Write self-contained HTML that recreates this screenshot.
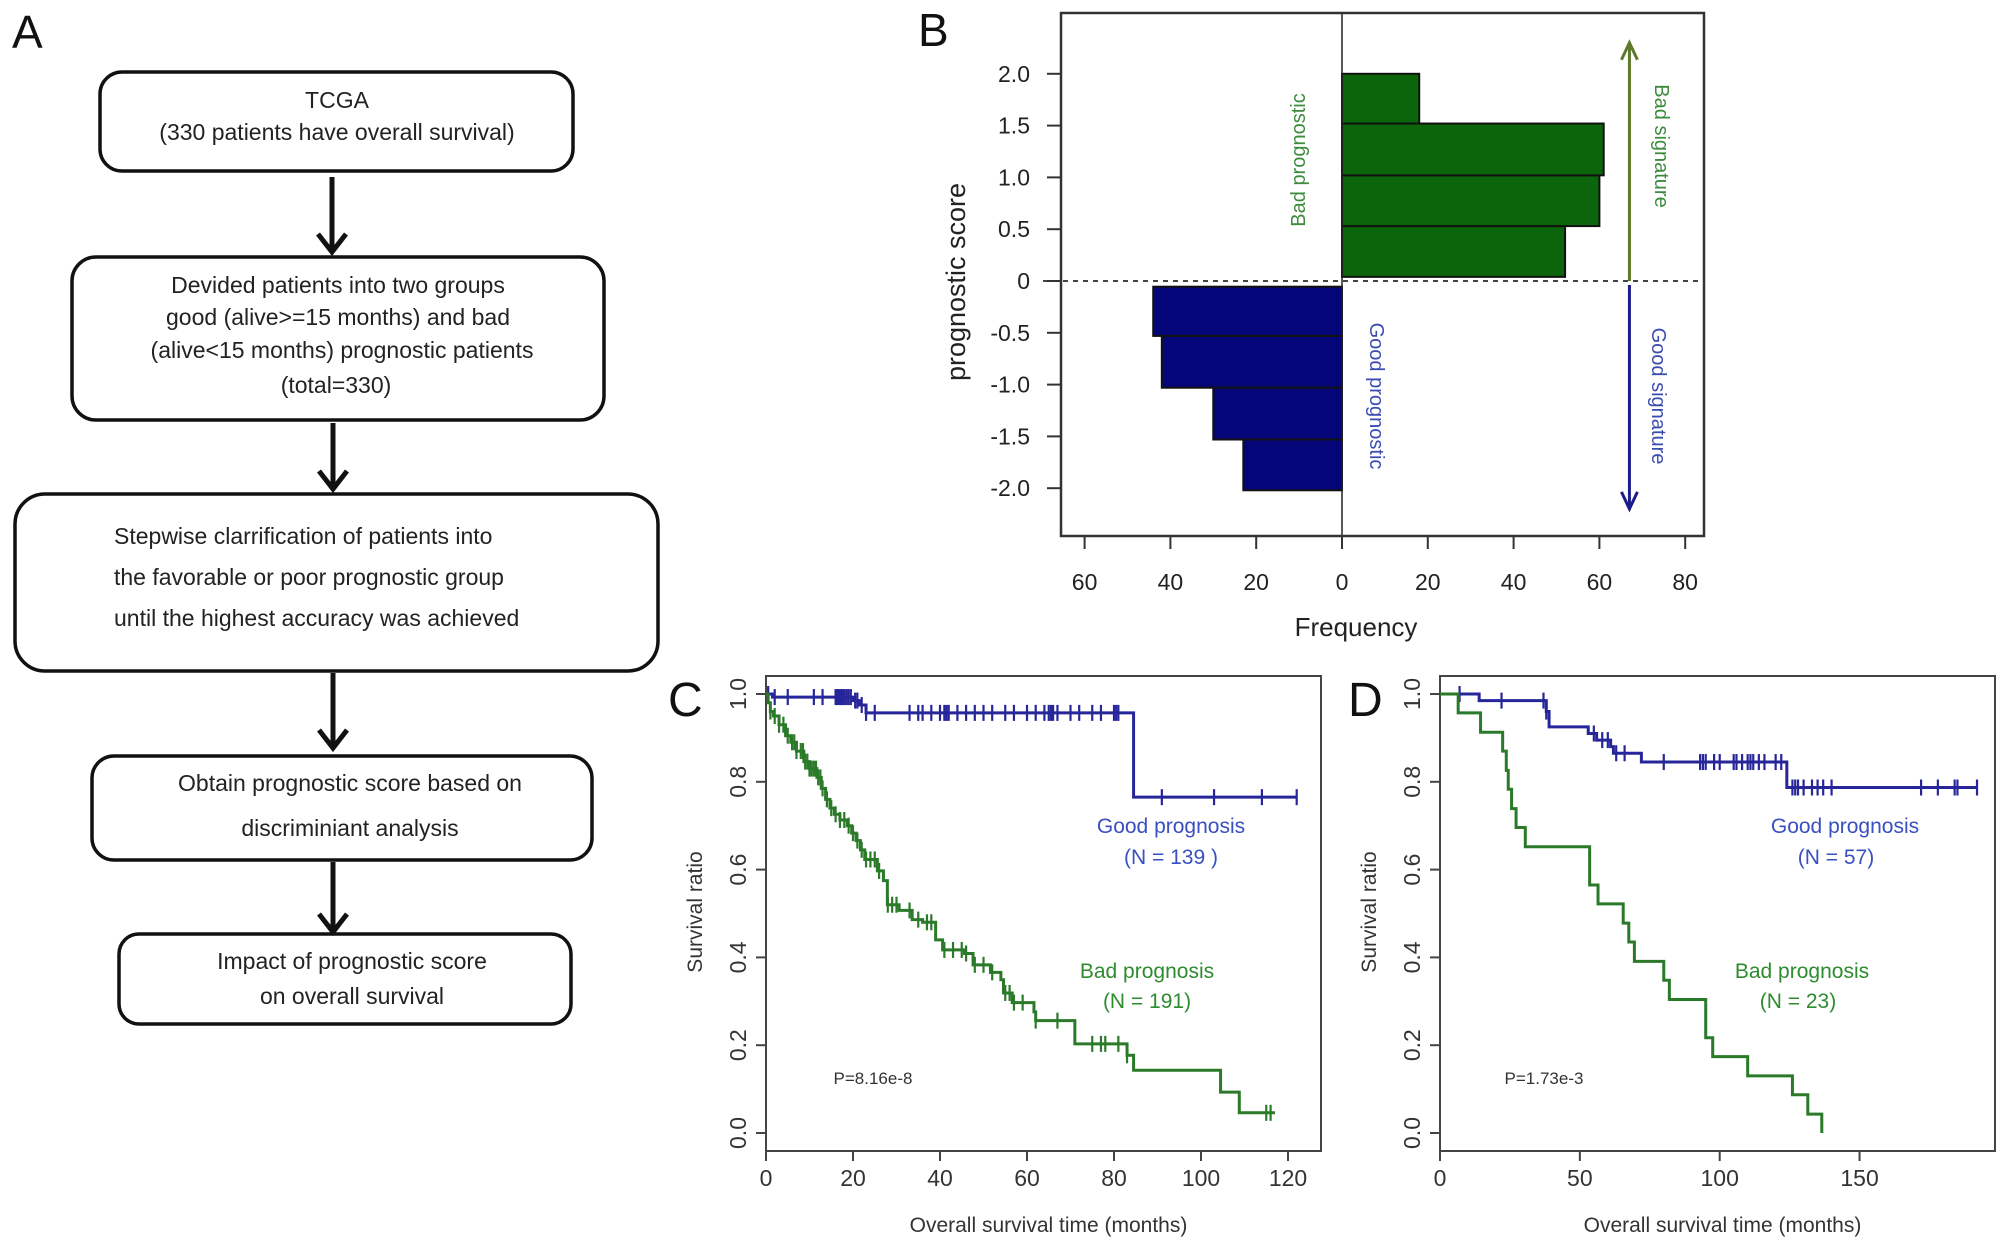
<!DOCTYPE html>
<html><head><meta charset="utf-8"><style>
html,body{margin:0;padding:0;background:#fff;}
svg{display:block;font-family:"Liberation Sans",Arial,sans-serif;}
.nar{font-family:"Liberation Sans Narrow","Liberation Sans",sans-serif;}
</style></head><body>
<svg id="fig" width="2008" height="1247" viewBox="0 0 2008 1247" xmlns="http://www.w3.org/2000/svg">
<g id="panelA" font-size="23" fill="#222">
  <text x="12" y="48" font-size="46" fill="#111">A</text>
  <rect x="100" y="72" width="473" height="99" rx="22" fill="none" stroke="#111" stroke-width="3.5"/>
  <text x="337" y="108" text-anchor="middle">TCGA</text>
  <text x="337" y="140" text-anchor="middle">(330 patients have overall survival)</text>
  <rect x="72" y="257" width="532" height="163" rx="24" fill="none" stroke="#111" stroke-width="3.5"/>
  <g text-anchor="middle">
   <text x="338" y="293">Devided patients into two groups</text>
   <text x="338" y="325">good (alive&gt;=15 months) and bad</text>
   <text x="342" y="358">(alive&lt;15 months) prognostic patients</text>
   <text x="336" y="393">(total=330)</text>
  </g>
  <rect x="15" y="494" width="643" height="177" rx="30" fill="none" stroke="#111" stroke-width="3.5"/>
  <g>
   <text x="114" y="544">Stepwise clarrification of patients into</text>
   <text x="114" y="585">the favorable or poor prognostic group</text>
   <text x="114" y="626">until the highest accuracy was achieved</text>
  </g>
  <rect x="92" y="756" width="500" height="104" rx="22" fill="none" stroke="#111" stroke-width="3.5"/>
  <g text-anchor="middle">
   <text x="350" y="791">Obtain prognostic score based on</text>
   <text x="350" y="836">discriminiant analysis</text>
  </g>
  <rect x="119" y="934" width="452" height="90" rx="20" fill="none" stroke="#111" stroke-width="3.5"/>
  <g text-anchor="middle">
   <text x="352" y="969">Impact of prognostic score</text>
   <text x="352" y="1004">on overall survival</text>
  </g>
  <g stroke="#111" stroke-width="5" fill="none">
   <path d="M332 177 V252 M318 234 L332 252 L346 234"/>
   <path d="M333 423 V489 M319 471 L333 489 L347 471"/>
   <path d="M333 673 V748 M319 730 L333 748 L347 730"/>
   <path d="M333 862 V932 M319 914 L333 932 L347 914"/>
  </g>
</g>
<g id="panelB"></g>
<g id="panelC"></g>
<g id="panelD"></g>
</svg>
<script>
// ---------- Panel B data ----------
const bGreenEdges = [0.04, 0.53, 1.02, 1.52, 2.0];
const bGreenCounts = [52, 60, 61, 18];
const bBlueEdges = [-0.055, -0.53, -1.03, -1.53, -2.02];
const bBlueCounts = [44, 42, 30, 23];
const bYTicks = [2.0, 1.5, 1.0, 0.5, 0, -0.5, -1.0, -1.5, -2.0];
const bYTickLabels = ["2.0","1.5","1.0","0.5","0","-0.5","-1.0","-1.5","-2.0"];
const bXTicks = [-60, -40, -20, 0, 20, 40, 60, 80];
const bXTickLabels = ["60","40","20","0","20","40","60","80"];

// ---------- Panel C data ----------
const cGoodSteps = [[0,1.0],[1.5,0.993],[20,0.985],[21.5,0.975],[23,0.957],[84.5,0.765]];
const cGoodEnd = 122;
const cGoodCensor = [0.5,2,5,11,13,16,16.3,16.6,17,17.3,17.6,18,18.5,19,19.5,20.5,21,22,23,25,33,35,36,38,40,41,41.5,42,44,46,48,50,52,55,57,60,62,64,65,65.5,66,67,70,72,75,77,80,80.5,81,91,103,114,122];
const cBadSteps = [[0,1.0],[0.5,0.98],[1,0.96],[1.7,0.95],[3,0.93],[4.5,0.905],[5.7,0.89],[7,0.87],[8.7,0.846],[10,0.83],[11.7,0.81],[12.7,0.785],[13.7,0.76],[14.7,0.74],[15.7,0.726],[17,0.713],[18.7,0.70],[19.7,0.683],[20.7,0.666],[21.7,0.645],[22.7,0.623],[25.6,0.597],[27,0.575],[27.9,0.52],[30.6,0.507],[33.6,0.486],[36,0.48],[39,0.44],[40.6,0.417],[45.6,0.409],[47.6,0.383],[51.6,0.366],[54,0.349],[54.6,0.319],[56.6,0.297],[61.6,0.276],[62,0.256],[71,0.203],[83,0.177],[84.5,0.143],[104.5,0.093],[108.8,0.046]];
const cBadEnd = 117;
const cBadCensor = [1,2,3,4,5,6,6.5,7,8,8.5,9,9.5,10,10.5,11,11.5,12,12.5,13,14,15,16,17,18,19,20,21,22,23,24,25,26,28,29,30,33,35,37,38,41,43,45,46,48,50,52,55,56,57,59,62,67,75,77,78,81,83,115,116];
const cXTicks = [0,20,40,60,80,100,120];
const cYTicks = [0,0.2,0.4,0.6,0.8,1.0];
const cYTickLabels = ["0.0","0.2","0.4","0.6","0.8","1.0"];

// ---------- Panel D data ----------
const dGoodSteps = [[0,1.0],[14,0.985],[38,0.96],[39,0.925],[53,0.91],[56,0.895],[61,0.88],[62,0.865],[72,0.845],[124,0.787]];
const dGoodEnd = 192;
const dGoodCensor = [7,22,37,38,55,58,60,63,66,80,93,94,95,98,100,105,106,108,110,111,112,114,116,120,122,126,127,128,130,133,135,137,140,172,178,184,185,192];
const dBadSteps = [[0,1.0],[6.5,0.957],[14.5,0.913],[22.4,0.87],[23.7,0.826],[24.4,0.783],[25.6,0.739],[27.2,0.696],[30.5,0.652],[53.5,0.565],[56.5,0.522],[65.5,0.478],[67.5,0.435],[69.5,0.391],[80,0.348],[82,0.304],[95,0.217],[97.5,0.174],[110,0.13],[126,0.087],[131.5,0.043],[136.5,0.0]];
const dBadEnd = 136.5;
const dXTicks = [0,50,100,150];
const dYTicks = [0,0.2,0.4,0.6,0.8,1.0];
const dYTickLabels = ["0.0","0.2","0.4","0.6","0.8","1.0"];

const NS = "http://www.w3.org/2000/svg";
function mk(parent, tag, attrs, text) {
  const e = document.createElementNS(NS, tag);
  for (const k in attrs) e.setAttribute(k, attrs[k]);
  if (text !== undefined) e.textContent = text;
  parent.appendChild(e);
  return e;
}

// ---------- Panel B ----------
(function(){
  const g = document.getElementById('panelB');
  const bx = v => 1342 + v * 4.29;
  const by = v => 281 - v * 103.6;
  let t = mk(g,'text',{x:918,y:46,'font-size':46,fill:'#111'},'B');
  
  
  bGreenCounts.forEach((c,i)=>{
    const y1 = by(bGreenEdges[i+1]), y0 = by(bGreenEdges[i]);
    const r = mk(g,'rect',{x:bx(0),y:y1,width:bx(c)-bx(0),height:y0-y1,fill:'#0b660b',stroke:'#111','stroke-width':2});
    
    
  });
  bBlueCounts.forEach((c,i)=>{
    const y0 = by(bBlueEdges[i]), y1 = by(bBlueEdges[i+1]);
    const r = mk(g,'rect',{x:bx(-c),y:y0,width:bx(0)-bx(-c),height:y1-y0,fill:'#05057a',stroke:'#111','stroke-width':2});
    
    
  });
  let ln = mk(g,'line',{x1:bx(0),y1:13,x2:bx(0),y2:536,stroke:'#222','stroke-width':1.5});
  
  
  ln = mk(g,'line',{x1:1043,y1:by(0),x2:1704,y2:by(0),stroke:'#444','stroke-width':2,'stroke-dasharray':'5,5'});
  
  
  const fr = mk(g,'rect',{x:1061,y:13,width:643,height:523,fill:'none',stroke:'#333','stroke-width':2.5});
  
  
  bYTicks.forEach((v,i)=>{
    const l = mk(g,'line',{x1:1047,y1:by(v),x2:1061,y2:by(v),stroke:'#333','stroke-width':2});
    
    
    const tx = mk(g,'text',{x:1030,y:by(v)+8,'text-anchor':'end','font-size':23,fill:'#222',class:'nar'},bYTickLabels[i]);
    
    
  });
  bXTicks.forEach((v,i)=>{
    const l = mk(g,'line',{x1:bx(v),y1:536,x2:bx(v),y2:549,stroke:'#333','stroke-width':2});
    
    
    const tx = mk(g,'text',{x:bx(v),y:590,'text-anchor':'middle','font-size':23,fill:'#222',class:'nar'},bXTickLabels[i]);
    
    
  });
  t = mk(g,'text',{x:1356,y:636,'text-anchor':'middle','font-size':26,fill:'#222'},'Frequency');
  
  
  t = mk(g,'text',{x:0,y:0,'text-anchor':'middle','font-size':27,fill:'#222',transform:'translate(965,282) rotate(-90)'},'prognostic score');
  
  
  const ax = bx(67);
  let a = mk(g,'path',{d:`M${ax} ${by(0)} V${by(2.3)} M${ax-8} ${by(2.3)+17} L${ax} ${by(2.3)} L${ax+8} ${by(2.3)+17}`,stroke:'#5d7a2a','stroke-width':3,fill:'none'});
  
  
  a = mk(g,'path',{d:`M${ax} ${by(0)+4} V${by(-2.2)} M${ax-8} ${by(-2.2)-17} L${ax} ${by(-2.2)} L${ax+8} ${by(-2.2)-17}`,stroke:'#1c1c8c','stroke-width':3,fill:'none'});
  
  
  t = mk(g,'text',{x:0,y:0,'text-anchor':'middle','font-size':20,fill:'#3d8b3d',transform:'translate(1305,160) rotate(-90)'},'Bad prognostic');
  
  
  t = mk(g,'text',{x:0,y:0,'text-anchor':'middle','font-size':20,fill:'#3a4cb0',transform:'translate(1370,396) rotate(90)'},'Good prognostic');
  
  
  t = mk(g,'text',{x:0,y:0,'text-anchor':'middle','font-size':20,fill:'#3d8b3d',transform:'translate(1655,146) rotate(90)'},'Bad signature');
  
  
  t = mk(g,'text',{x:0,y:0,'text-anchor':'middle','font-size':20,fill:'#3a4cb0',transform:'translate(1652,396) rotate(90)'},'Good signature');
  
  
})();

// ---------- KM helper ----------
function survAt(steps, t){ let s = steps[0][1]; for (const p of steps){ if (p[0] <= t) s = p[1]; } return s; }
function kmPanel(g, o){
  const X = v => o.x0 + v * o.pxPerX;
  const Y = v => 1133 - v * 439;
  let t = mk(g,'text',{x:o.lx,y:716,'font-size':48,fill:'#111'},o.letter);
  
  
  const fr = mk(g,'rect',{x:o.bl,y:676,width:o.br-o.bl,height:475,fill:'none',stroke:'#444','stroke-width':2});
  
  
  o.yTicks.forEach((v,i)=>{
    const l = mk(g,'line',{x1:o.bl-10,y1:Y(v),x2:o.bl,y2:Y(v),stroke:'#444','stroke-width':2});
    
    
    const tx = mk(g,'text',{x:0,y:0,'text-anchor':'middle','font-size':23,fill:'#333',transform:`translate(${o.bl-20},${Y(v)}) rotate(-90)`},o.yLabels[i]);
    
    
  });
  o.xTicks.forEach(v=>{
    const l = mk(g,'line',{x1:X(v),y1:1151,x2:X(v),y2:1161,stroke:'#444','stroke-width':2});
    
    
    const tx = mk(g,'text',{x:X(v),y:1186,'text-anchor':'middle','font-size':23,fill:'#333'},String(v));
    
    
  });
  t = mk(g,'text',{x:(o.bl+o.br)/2+5,y:1232,'text-anchor':'middle','font-size':21,fill:'#333'},'Overall survival time (months)');
  
  
  t = mk(g,'text',{x:0,y:0,'text-anchor':'middle','font-size':21,fill:'#333',transform:`translate(${o.bl-64},912) rotate(-90)`},'Survival ratio');
  
  
  o.series.forEach(s=>{
    let d = `M${X(0)} ${Y(s.steps[0][1])}`;
    for (let i=1;i<s.steps.length;i++){ d += ` H${X(s.steps[i][0])} V${Y(s.steps[i][1])}`; }
    d += ` H${X(s.end)}`;
    const p = mk(g,'path',{d:d,fill:'none',stroke:s.color,'stroke-width':3});
    
    
    s.censor.forEach(c=>{
      const yy = Y(survAt(s.steps,c));
      const m = mk(g,'line',{x1:X(c),y1:yy-8,x2:X(c),y2:yy+8,stroke:s.color,'stroke-width':2.2});
      
      
    });
  });
  o.texts.forEach(tt=>{
    const e = mk(g,'text',{x:tt[0],y:tt[1],'text-anchor':'middle','font-size':tt[4],fill:tt[3]},tt[2]);
    
    
  });
}
kmPanel(document.getElementById('panelC'),{
  letter:'C', lx:668, x0:766, pxPerX:4.35, bl:766, br:1321,
  xTicks:cXTicks, yTicks:cYTicks, yLabels:cYTickLabels,
  series:[
    {name:'good',steps:cGoodSteps,end:cGoodEnd,censor:cGoodCensor,color:'#26269a'},
    {name:'bad',steps:cBadSteps,end:cBadEnd,censor:cBadCensor,color:'#2a7a2a'}
  ],
  texts:[[1171,833,'Good prognosis','#3a4fc0',21,'good-label'],[1171,864,'(N = 139 )','#3a4fc0',21,'good-n-label'],
         [1147,978,'Bad prognosis','#2e8b2e',21,'bad-label'],[1147,1008,'(N = 191)','#2e8b2e',21,'bad-n-label'],
         [873,1084,'P=8.16e-8','#333',17,'p-value']]
});
kmPanel(document.getElementById('panelD'),{
  letter:'D', lx:1348, x0:1440, pxPerX:2.797, bl:1440, br:1995,
  xTicks:dXTicks, yTicks:dYTicks, yLabels:dYTickLabels,
  series:[
    {name:'good',steps:dGoodSteps,end:dGoodEnd,censor:dGoodCensor,color:'#26269a'},
    {name:'bad',steps:dBadSteps,end:dBadEnd,censor:[],color:'#2a7a2a'}
  ],
  texts:[[1845,833,'Good prognosis','#3a4fc0',21,'good-label'],[1836,864,'(N = 57)','#3a4fc0',21,'good-n-label'],
         [1802,978,'Bad prognosis','#2e8b2e',21,'bad-label'],[1798,1008,'(N = 23)','#2e8b2e',21,'bad-n-label'],
         [1544,1084,'P=1.73e-3','#333',17,'p-value']]
});
</script>
</body></html>
